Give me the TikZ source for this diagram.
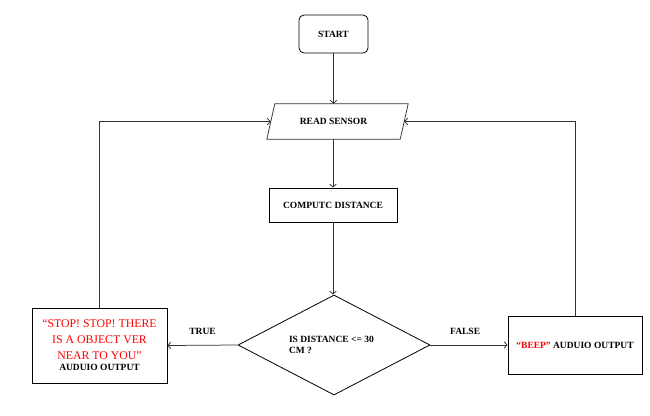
\documentclass[tikz,border=0pt]{standalone}
\usepackage{fontspec}
\setmainfont{Liberation Serif}
\usetikzlibrary{shapes.geometric,arrows.meta,shadows}
\begin{document}
\begin{tikzpicture}[x=1pt,y=-1pt,
  line/.style={draw=black!80, line width=0.75pt},
  arr/.style={line, -{Straight Barb[length=3pt,width=6.5pt]}},
  bf/.style={font=\bfseries\fontsize{9.5}{11}\selectfont},
  box/.style={draw=black, line width=0.8pt, fill=white, inner sep=2pt, align=center, bf},
  outbox/.style={box, drop shadow={shadow xshift=0.6pt, shadow yshift=-1.2pt, fill=black!45, opacity=1}},
  lbl/.style={bf}]
\fill[white] (0,0) rectangle (650,415);
\useasboundingbox (0,0) rectangle (650,415);

\node[box, rounded corners=5pt, minimum width=69, minimum height=38] (start) at (333.5,34) {START};
\node[bf, minimum width=133, minimum height=35, inner sep=0pt] (read) at (337.5,121.5) {\hspace*{-8pt}READ SENSOR};
\draw[line] ([xshift=-4pt]read.south west) -- ([xshift=-4pt]read.south east)
  -- ([xshift=4pt]read.north east) -- ([xshift=4pt]read.north west) -- cycle;
\node[box, minimum width=128, minimum height=34] (comp) at (333,205) {COMPUTC DISTANCE};
\node[draw=black, line width=0.8pt, diamond, shape aspect=2, minimum width=192, minimum height=100,
  inner sep=0pt, align=left, bf] (dec) at (334,345) {\raisebox{-2pt}{\parbox{90pt}{IS DISTANCE <= 30\\CM ?}}};
\node[outbox, minimum width=135, minimum height=75] (lbox) at (99.5,345.5)
  {{\color{red}\mdseries\fontsize{11.8}{18.3}\selectfont “STOP! STOP! THERE}\\[5pt]
   {\color{red}\mdseries\fontsize{11.8}{18.3}\selectfont IS A OBJECT VER}\\[5pt]
   {\color{red}\mdseries\fontsize{11.8}{18.3}\selectfont NEAR TO YOU”}\\[0pt]
   AUDUIO OUTPUT};
\node[outbox, minimum width=134, minimum height=58] (rbox) at (575,345)
  {{\color{red}“BEEP”} AUDUIO OUTPUT};

\draw[arr] (start.south) -- (start.south |- read.north);
\draw[arr] (read.south -| comp.north) -- (comp.north);
\draw[arr] (comp.south) -- (comp.south |- dec.north);
\draw[arr] (dec.west) -- (lbox.east) node[lbl, pos=0.5, above=7pt] (t) {TRUE};
\draw[arr] (dec.east) -- (rbox.west) node[lbl, pos=0.45, above=7pt] (f) {FALSE};
\draw[arr] (lbox.north) |- (read.west);
\draw[arr] (rbox.north) |- (read.east);
\end{tikzpicture}
\end{document}
